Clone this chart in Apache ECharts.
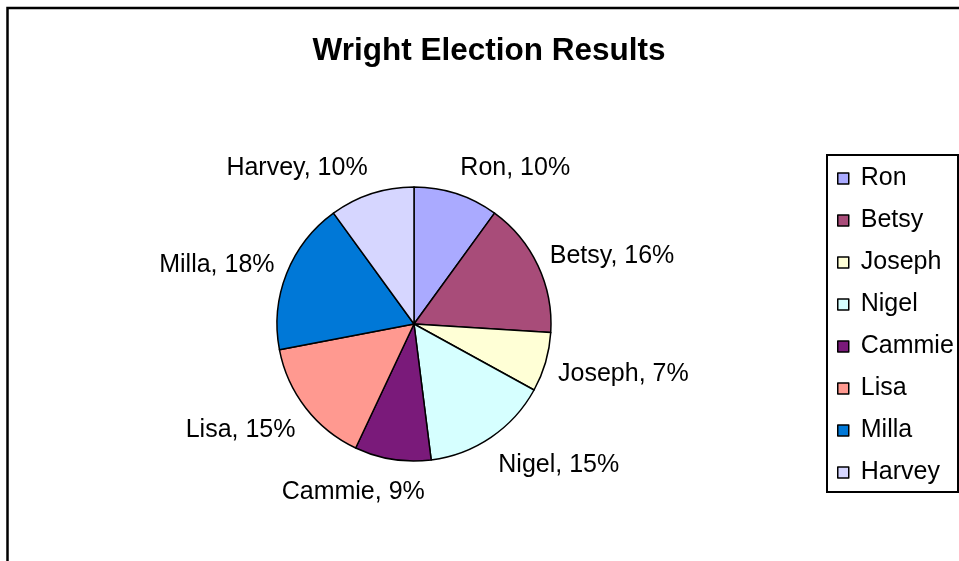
<!DOCTYPE html>
<html>
<head>
<meta charset="utf-8">
<script src="https://cdn.jsdelivr.net/npm/echarts@6/dist/echarts.min.js"></script>
<style>
  html, body { margin: 0; padding: 0; background: #fff; }
  #chart { width: 959px; height: 561px; }
</style>
</head>
<body>
<div id="chart"></div>
<script>
// candidates and their share of the vote (%)
const names = ['Ron', 'Betsy', 'Joseph', 'Nigel', 'Cammie', 'Lisa', 'Milla', 'Harvey'];
const shares = [10, 16, 7, 15, 9, 15, 18, 10];
const colors = ['#aaaaff', '#a84c79', '#ffffd6', '#d6ffff', '#7a1a7a', '#ff9990', '#0078d7', '#d6d6ff'];

const FONT = '"Liberation Sans", Arial, sans-serif';
const pieCx = 414, pieCy = 324, pieR = 137;
const total = shares.reduce((a, b) => a + b, 0);

// excel-like "best fit": put the label just outside the slice, on the slice's side
function placeLabel(p) {
    let before = 0;
    for (let j = 0; j < p.dataIndex; j++) before += shares[j];
    const ang = (before + shares[p.dataIndex] / 2) / total * Math.PI * 2;
    const dx = Math.sin(ang), dy = -Math.cos(ang);
    const hw = p.labelRect.width / 2, hh = p.labelRect.height / 2;
    const side = v => Math.max(-1, Math.min(1, v / 0.3));
    const d = pieR + 13;
    return {
        x: pieCx + d * dx + hw * side(dx),
        y: pieCy + d * dy + hh * 1.4 * dy + 3,
        align: 'center',
        verticalAlign: 'middle'
    };
}

const chart = echarts.init(document.getElementById('chart'));
chart.setOption({
    animation: false,
    backgroundColor: '#fff',
    color: colors,
    title: {
        text: 'Wright Election Results',
        left: 484,
        top: 30,
        textAlign: 'center',
        textStyle: { fontFamily: FONT, fontSize: 31.5, fontWeight: 'bold', color: '#000' }
    },
    legend: {
        orient: 'vertical',
        left: 837,
        top: 166,
        padding: 0,
        itemGap: 17,
        itemWidth: 11,
        itemHeight: 11,
        icon: 'rect',
        selectedMode: false,
        itemStyle: { borderColor: '#000', borderWidth: 1.5 },
        textStyle: { fontFamily: FONT, fontSize: 25, lineHeight: 25, color: '#000', padding: [0, 0, 0, 7] },
        data: names
    },
    graphic: [
        {
            type: 'rect',
            shape: { x: 7.5, y: 8, width: 1000, height: 600 },
            style: { fill: null, stroke: '#000', lineWidth: 2.5 },
            silent: true
        },
        {
            type: 'rect',
            shape: { x: 827, y: 155, width: 131, height: 337 },
            style: { fill: null, stroke: '#000', lineWidth: 2 },
            silent: true
        }
    ],
    series: [{
        type: 'pie',
        center: [pieCx, pieCy],
        radius: pieR,
        startAngle: 90,
        clockwise: true,
        itemStyle: { borderColor: '#000', borderWidth: 1.5 },
        label: {
            show: true,
            position: 'outside',
            formatter: '{b}, {d}%',
            fontFamily: FONT,
            fontSize: 25,
            color: '#000'
        },
        labelLine: { show: false },
        labelLayout: placeLabel,
        emphasis: { disabled: true },
        data: names.map((n, i) => ({ name: n, value: shares[i] }))
    }]
});
</script>
</body>
</html>
